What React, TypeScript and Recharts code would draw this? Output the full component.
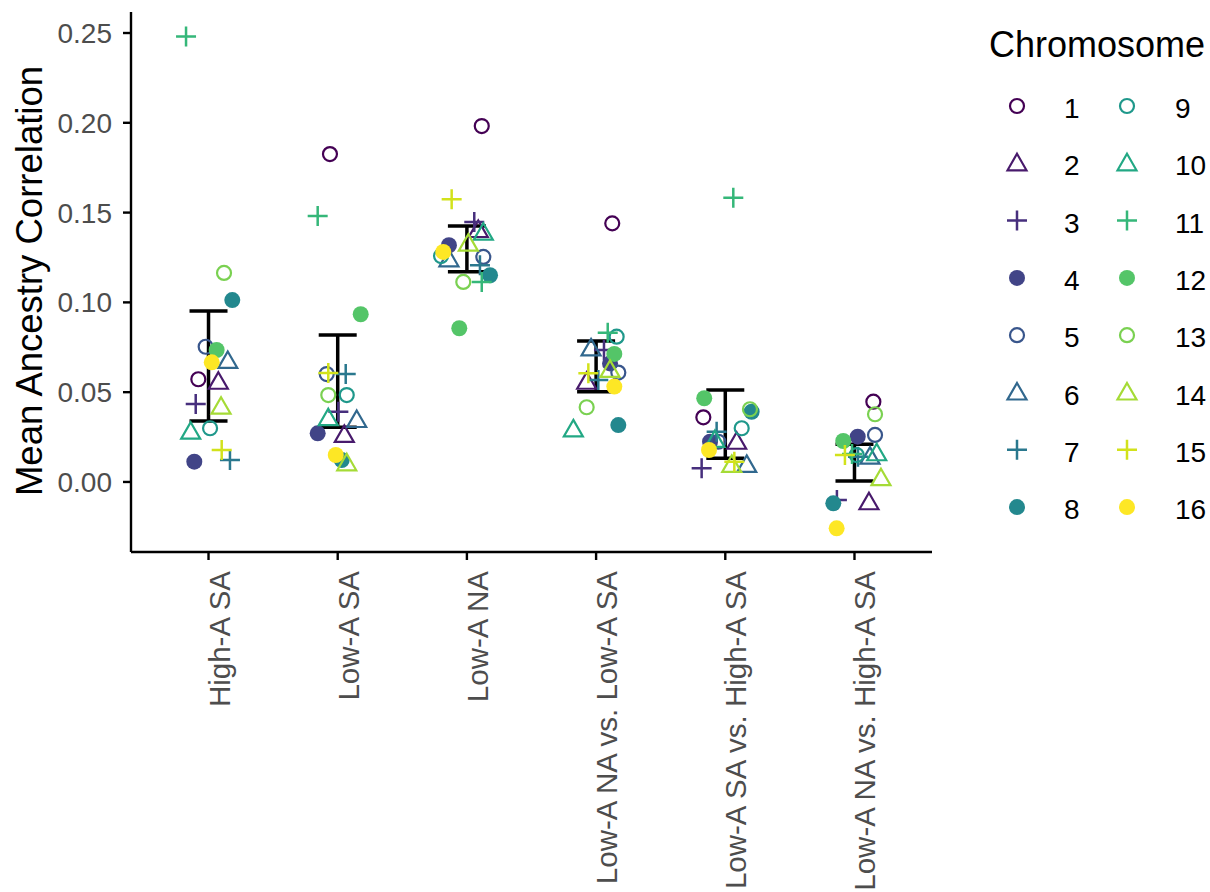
import { ScatterChart, Scatter, XAxis, YAxis, ErrorBar } from 'recharts'

const FONT = "'Liberation Sans', Arial, Helvetica, sans-serif"

const categories = [
  'High-A SA',
  'Low-A SA',
  'Low-A NA',
  'Low-A NA vs. Low-A SA',
  'Low-A SA vs. High-A SA',
  'Low-A NA vs. High-A SA',
]

const chromosomes = [1, 2, 3, 4, 5, 6, 7, 8, 9, 10, 11, 12, 13, 14, 15, 16]

const colors = [
  '#440154', '#481A6C', '#472F7D', '#414487', '#39568C', '#31688E', '#2A788E', '#23888E',
  '#1F988B', '#22A884', '#35B779', '#54C568', '#7AD151', '#A5DB36', '#D2E21B', '#FDE725',
]

// shape cycle: open circle, open triangle, plus, filled circle
const shapeCycle = ['open', 'triangle', 'plus', 'filled']

// mean ancestry correlation, chromosome 1..16
const highASA = [0.0572, 0.0558, 0.0434, 0.0113, 0.0753, 0.0674, 0.0122, 0.1013, 0.0299, 0.028, 0.248, 0.0735, 0.1164, 0.0419, 0.0178, 0.0666]
const lowASA = [0.1826, 0.0262, 0.0391, 0.0271, 0.0601, 0.0345, 0.0601, 0.0122, 0.0484, 0.0355, 0.1481, 0.0934, 0.0484, 0.0104, 0.0607, 0.015]
const lowANA = [0.1982, 0.1403, 0.1448, 0.1318, 0.1253, 0.124, 0.1207, 0.1151, 0.1258, 0.1388, 0.1114, 0.0856, 0.1114, 0.1327, 0.1574, 0.1281]
const naVsSa = [0.144, 0.0558, 0.0735, 0.066, 0.0609, 0.0744, 0.0568, 0.0317, 0.0809, 0.0293, 0.0831, 0.0713, 0.0416, 0.0624, 0.0605, 0.0531]
const saVsHighSa = [0.036, 0.0224, 0.0076, 0.0224, 0.0224, 0.0095, 0.028, 0.0391, 0.0299, 0.0234, 0.1583, 0.0466, 0.0405, 0.0095, 0.0113, 0.0178]
const naVsHighSa = [0.0447, -0.0113, -0.01, 0.0252, 0.0262, 0.0141, 0.014, -0.0119, 0.015, 0.016, 0.0156, 0.0228, 0.0377, 0.0021, 0.015, -0.0258]

// horizontal jitter (category units), chromosome 1..16
const highASAJit = [-0.079, 0.076, -0.099, -0.11, -0.022, 0.149, 0.166, 0.184, 0.012, -0.138, -0.174, 0.063, 0.12, 0.097, 0.102, 0.025]
const lowASAJit = [-0.06, 0.051, 0.005, -0.155, -0.085, 0.147, 0.062, 0.031, 0.07, -0.073, -0.155, 0.178, -0.073, 0.07, -0.073, -0.015]
const lowANAJit = [0.115, 0.088, 0.057, -0.139, 0.127, -0.139, 0.101, 0.179, -0.2, 0.127, 0.115, -0.059, -0.028, 0.011, -0.118, -0.183]
const naVsSaJit = [0.125, -0.073, 0.061, 0.108, 0.172, -0.039, 0.017, 0.172, 0.159, -0.176, 0.09, 0.141, -0.073, 0.108, -0.06, 0.141]
const saVsHighSaJit = [-0.17, 0.088, -0.183, -0.118, -0.054, 0.166, -0.067, 0.204, 0.127, -0.08, 0.062, -0.163, 0.191, 0.05, 0.07, -0.126]
const naVsHighSaJit = [0.146, 0.112, -0.136, 0.025, 0.159, 0.12, 0.027, -0.164, 0.017, 0.172, -0.019, -0.087, 0.159, 0.205, -0.074, -0.138]

// error bar ends per category
const barLow = [0.034, 0.0304, 0.1171, 0.0503, 0.0132, 0.0006]
const barHigh = [0.0952, 0.0818, 0.1425, 0.0785, 0.0512, 0.021]

const yTicks = [0, 0.05, 0.1, 0.15, 0.2, 0.25]

const valueSets = [highASA, lowASA, lowANA, naVsSa, saVsHighSa, naVsHighSa]
const jitterSets = [highASAJit, lowASAJit, lowANAJit, naVsSaJit, saVsHighSaJit, naVsHighSaJit]

const seriesData = chromosomes.map((_, c) =>
  categories.map((_, i) => ({ x: i + 1 + jitterSets[i][c], y: valueSets[i][c] }))
)

const barData = categories.map((_, i) => {
  const mid = (barLow[i] + barHigh[i]) / 2
  return { x: i + 1, y: mid, err: [mid - barLow[i], barHigh[i] - mid] }
})

function Marker({ cx, cy, kind, color }: { cx: number; cy: number; kind: string; color: string }) {
  if (kind === 'open') return <circle cx={cx} cy={cy} r={7} fill="none" stroke={color} strokeWidth={2.2} />
  if (kind === 'filled') return <circle cx={cx} cy={cy} r={8} fill={color} />
  if (kind === 'triangle')
    return (
      <polygon
        points={`${cx},${cy - 9.5} ${cx + 9.5},${cy + 7} ${cx - 9.5},${cy + 7}`}
        fill="none"
        stroke={color}
        strokeWidth={2.2}
        strokeLinejoin="miter"
      />
    )
  return <path d={`M${cx - 10},${cy}H${cx + 10}M${cx},${cy - 10}V${cy + 10}`} stroke={color} strokeWidth={2.5} fill="none" />
}

function XTick(props: any) {
  const { x, y, payload } = props
  const label = categories[Math.round(payload.value) - 1]
  const bx = x + 21
  return (
    <text
      x={bx}
      y={y}
      transform={`rotate(-90 ${bx} ${y})`}
      textAnchor="end"
      fontSize={29.5}
      fontFamily={FONT}
      fill="#4D4D4D"
    >
      {label}
    </text>
  )
}

function YTitle() {
  return (
    <text
      x={42}
      y={281}
      transform="rotate(-90 42 281)"
      textAnchor="middle"
      fontSize={36.5}
      fontFamily={FONT}
      fill="#000"
    >
      Mean Ancestry Correlation
    </text>
  )
}

function LegendBox() {
  return (
    <svg width={240} height={560} style={{ position: 'absolute', left: 970, top: 0 }}>
      <text x={19} y={57} fontSize={36} fontFamily={FONT} fill="#000">
        Chromosome
      </text>
      {chromosomes.map((chr, c) => {
        const col = c < 8 ? 0 : 1
        const row = c % 8
        const yc = 106 + row * 57.3
        const sx = col === 0 ? 47 : 157
        const tx = col === 0 ? 94 : 205
        return (
          <g key={chr}>
            <Marker cx={sx} cy={yc} kind={shapeCycle[c % 4]} color={colors[c]} />
            <text x={tx} y={yc + 12} fontSize={28} fontFamily={FONT} fill="#000">
              {chr}
            </text>
          </g>
        )
      })}
    </svg>
  )
}

export default function App() {
  return (
    <div style={{ position: 'absolute', left: 0, top: 0, width: 1210, height: 892, background: '#fff' }}>
      <ScatterChart width={1210} height={892} margin={{ top: 12, right: 278, bottom: 0, left: 0 }}>
        <XAxis
          type="number"
          dataKey="x"
          domain={[0.4, 6.6]}
          ticks={[1, 2, 3, 4, 5, 6]}
          interval={0}
          allowDataOverflow
          height={340}
          tickSize={8}
          tickMargin={11}
          tick={<XTick />}
          axisLine={{ stroke: '#000', strokeWidth: 2.4 }}
          tickLine={{ stroke: '#000', strokeWidth: 2.4 }}
        />
        <YAxis
          type="number"
          dataKey="y"
          domain={[-0.039, 0.2617]}
          ticks={yTicks}
          interval={0}
          allowDataOverflow
          width={131}
          tickSize={8}
          tickMargin={11}
          tickFormatter={(v: number) => v.toFixed(2)}
          tick={{ fill: '#4D4D4D', fontSize: 28, fontFamily: FONT }}
          axisLine={{ stroke: '#000', strokeWidth: 2.4 }}
          tickLine={{ stroke: '#000', strokeWidth: 2.4 }}
          label={() => <YTitle />}
        />
        {chromosomes.map((chr, c) => (
          <Scatter
            key={chr}
            name={String(chr)}
            data={seriesData[c]}
            isAnimationActive={false}
            shape={(p: any) => <Marker cx={p.cx} cy={p.cy} kind={shapeCycle[c % 4]} color={colors[c]} />}
          />
        ))}
        <Scatter data={barData} isAnimationActive={false} shape={() => <g />}>
          <ErrorBar dataKey="err" direction="y" width={19} stroke="#000" strokeWidth={3.5} isAnimationActive={false} />
        </Scatter>
      </ScatterChart>
      <LegendBox />
    </div>
  )
}
